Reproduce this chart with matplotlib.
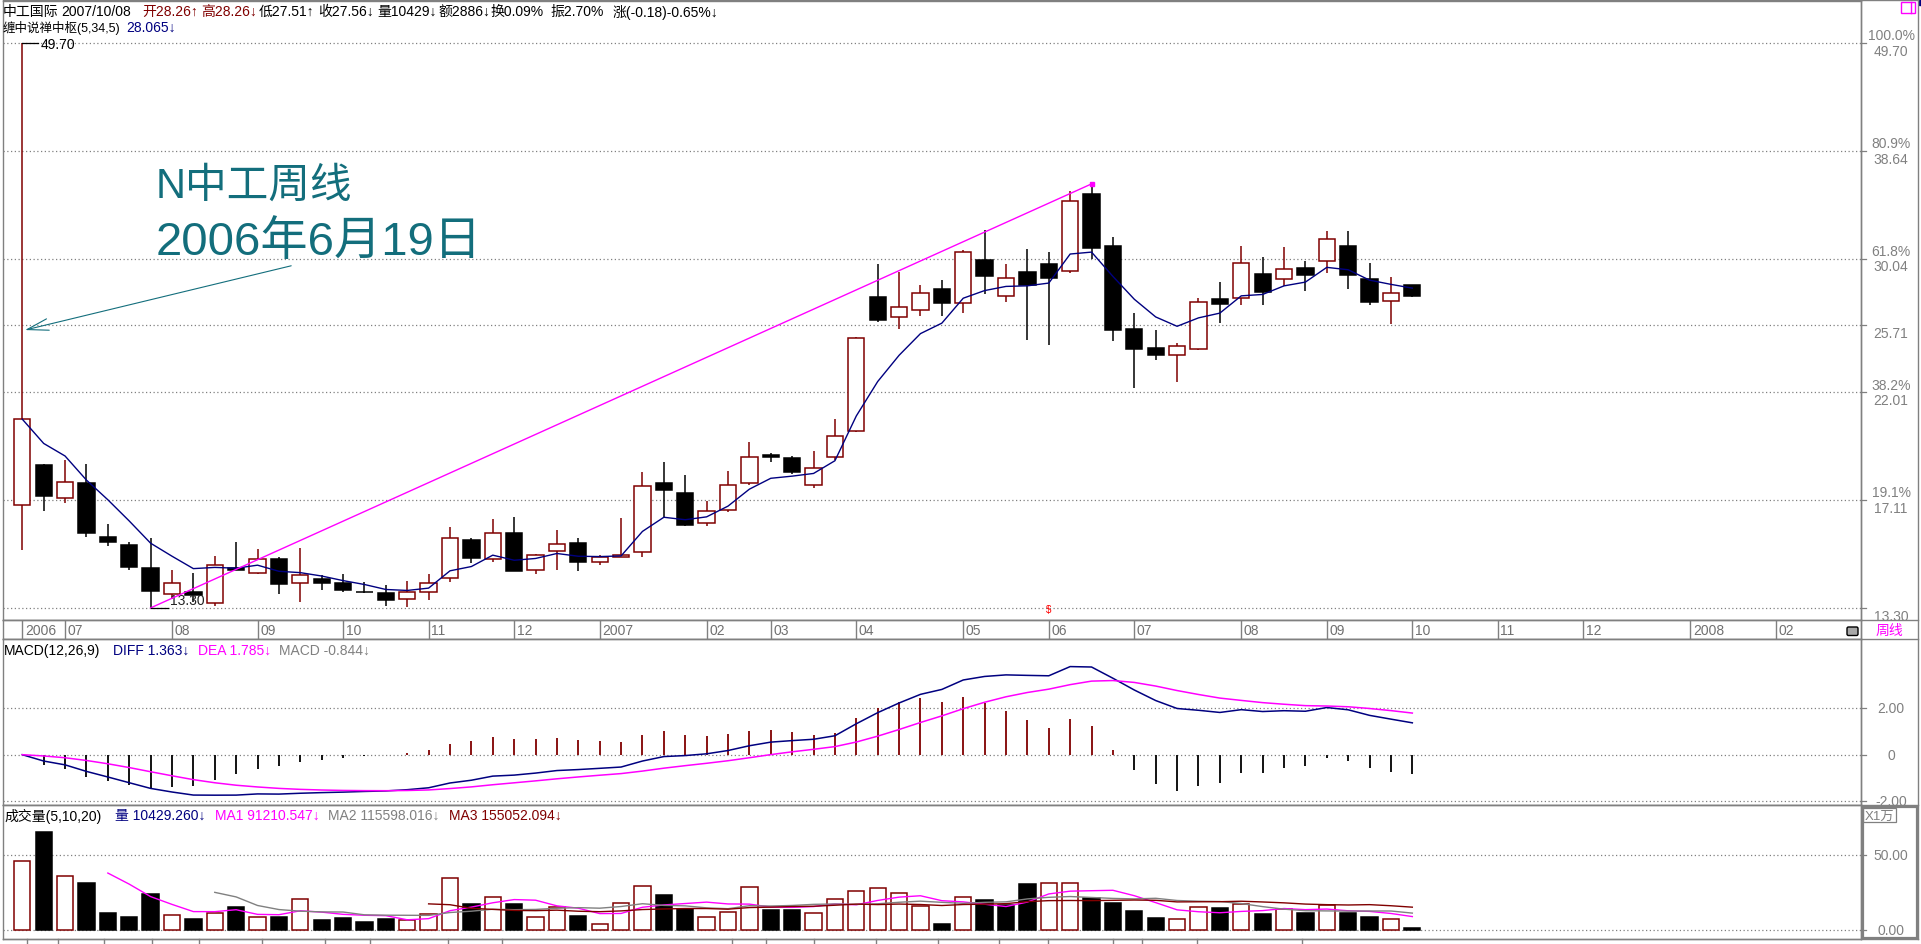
import numpy as np
import pandas as pd
import matplotlib
matplotlib.use("Agg")
import matplotlib.pyplot as plt
from matplotlib.patches import Rectangle, FancyBboxPatch, Arc

plt.rcParams["font.family"] = ["Liberation Sans", "Noto Sans CJK SC", "DejaVu Sans"]

# weekly bars of 中工国际, 2006-06-19 .. 2007-10-08
opens = [16.90, 18.57, 17.18, 17.80, 15.69, 15.42, 14.60, 13.73, 13.81, 13.45,
         14.61, 14.42, 14.91, 14.11, 14.23, 14.09, 13.80, 13.76, 13.57, 13.79,
         14.27, 15.59, 14.91, 15.85, 14.52, 15.19, 15.46, 14.81, 14.99, 15.16,
         17.80, 17.41, 16.20, 16.72, 17.80, 19.00, 18.85, 17.70, 18.91, 20.11,
         27.46, 26.21, 26.68, 28.00, 27.08, 29.96, 27.52, 29.12, 29.68, 29.18,
         34.95, 30.93, 25.48, 24.37, 24.02, 24.34, 27.35, 27.44, 29.00, 28.64,
         29.41, 29.87, 30.95, 28.66, 27.20, 28.26]
highs = [49.70, 18.62, 18.80, 18.60, 16.17, 15.52, 15.65, 14.53, 14.43, 15.02,
         15.50, 15.27, 14.97, 15.30, 14.36, 14.40, 14.12, 14.02, 14.17, 14.40,
         16.06, 15.65, 16.37, 16.46, 15.10, 15.95, 15.66, 15.06, 16.41, 18.25,
         18.68, 18.14, 17.06, 18.32, 19.60, 19.10, 18.95, 19.20, 20.67, 25.05,
         29.68, 29.16, 28.26, 28.60, 30.67, 32.10, 29.68, 30.74, 30.50, 35.17,
         35.78, 31.59, 26.50, 25.44, 24.68, 27.42, 28.46, 30.95, 30.15, 30.86,
         29.89, 32.06, 32.06, 29.75, 28.80, 28.26]
lows = [15.21, 16.69, 17.00, 15.70, 15.35, 14.53, 13.30, 13.58, 13.50, 13.37,
        14.52, 14.40, 13.74, 13.49, 13.86, 13.80, 13.78, 13.37, 13.34, 13.56,
        14.12, 14.78, 14.81, 14.50, 14.40, 14.53, 14.51, 14.70, 14.97, 14.99,
        16.41, 16.11, 16.10, 16.65, 17.70, 18.70, 18.20, 17.60, 18.80, 20.05,
        25.95, 25.50, 26.31, 26.31, 26.47, 27.68, 27.18, 24.87, 24.59, 29.04,
        30.03, 24.82, 22.24, 23.74, 22.52, 24.30, 25.88, 26.99, 26.99, 28.18,
        27.89, 29.04, 28.02, 26.99, 25.80, 27.51]
closes = [20.66, 17.25, 17.83, 15.85, 15.51, 14.64, 13.82, 14.08, 13.72, 14.70,
          14.54, 14.90, 14.07, 14.35, 14.10, 13.87, 13.79, 13.56, 13.79, 14.08,
          15.65, 14.94, 15.83, 14.51, 15.05, 15.45, 14.81, 14.97, 15.06, 17.67,
          17.50, 16.15, 16.67, 17.70, 18.91, 18.90, 18.27, 18.43, 19.85, 24.95,
          26.04, 26.83, 27.72, 27.10, 30.50, 28.88, 28.71, 28.28, 28.75, 34.36,
          30.79, 25.46, 24.34, 24.02, 24.53, 27.19, 27.05, 29.73, 27.82, 29.32,
          28.95, 31.44, 28.95, 27.18, 27.74, 27.56]
# volume in 万 (X1万 scale)
volumes = [46.0, 65.8, 35.9, 31.5, 11.4, 8.9, 24.1, 9.8, 7.4, 11.2,
           15.4, 8.5, 8.7, 20.5, 6.7, 8.0, 5.4, 7.4, 6.7, 10.5,
           34.6, 17.4, 21.9, 17.4, 8.5, 15.6, 9.6, 3.8, 17.9, 29.2,
           23.4, 14.3, 8.5, 11.8, 28.6, 13.4, 13.4, 11.2, 20.5, 25.9,
           27.9, 24.5, 15.8, 4.0, 21.9, 20.1, 16.7, 30.8, 31.2, 31.2,
           21.6, 18.1, 12.7, 8.0, 7.1, 15.2, 14.7, 17.2, 10.7, 14.1,
           11.4, 16.7, 11.4, 8.7, 7.1, 1.043]

month_pos = [0, 2, 7, 11, 15, 19, 23, 27, 32, 35, 39, 44, 48, 52, 57, 61, 65,
             69, 73, 78, 82]
month_labels = ["2006", "07", "08", "09", "10", "11", "12", "2007", "02", "03",
                "04", "05", "06", "07", "08", "09", "10", "11", "12", "2008", "02"]

fib_pct = [1.0, 0.809, 0.618, 0.5, 0.382, 0.191, 0.0]
fib_pct_labels = ["100.0%", "80.9%", "61.8%", "", "38.2%", "19.1%", ""]
fib_price_labels = ["49.70", "38.64", "30.04", "25.71", "22.01", "17.11", "13.30"]

macd_ticks = [2.0, 0.0, -2.0]
macd_tick_labels = ["2.00", "0", "-2.00"]
vol_ticks = [50.0, 0.0]
vol_tick_labels = ["50.00", "0.00"]

head1 = [("中工国际", "k", 3), ("2007/10/08", "k", 61), ("开28.26↑", "#800000", 142),
         ("高28.26↓", "#800000", 201), ("低27.51↑", "k", 259), ("收27.56↓", "k", 318),
         ("量10429↓", "k", 377), ("额2886↓", "k", 438), ("换0.09%", "k", 490),
         ("振2.70%", "k", 550), ("涨(-0.18)-0.65%↓", "k", 613)]
head2 = [("缠中说禅中枢(5,34,5)", "k", 3), ("28.065↓", "#000080", 126)]
head_macd = [("MACD(12,26,9)", "k", 4), ("DIFF 1.363↓", "#000080", 113),
             ("DEA 1.785↓", "#ff00ff", 198), ("MACD -0.844↓", "#808080", 279)]
head_vol = [("成交量(5,10,20)", "k", 4), ("量 10429.260↓", "#000080", 115),
            ("MA1 91210.547↓", "#ff00ff", 215), ("MA2 115598.016↓", "#808080", 328),
            ("MA3 155052.094↓", "#800000", 449)]

# ---- layout (pixels of the 1921x945 picture) ----
W, H, DPI = 1921, 945, 100
X0, X1 = 3, 1861
X_OFF, X_STEP = 22.3, 21.385
RED, NAVY, MAG, GRAY = "#800000", "#000080", "#ff00ff", "#808080"
TEAL = "#136e7c"


def ema(x, n):
    out = np.empty(len(x))
    out[0] = x[0]
    for k in range(1, len(x)):
        out[k] = (2 * x[k] + (n - 1) * out[k - 1]) / (n + 1)
    return out


o = np.array(opens); h = np.array(highs); l = np.array(lows); c = np.array(closes)
v = np.array(volumes)
idx = np.arange(len(c))

fig = plt.figure(figsize=(W / DPI, H / DPI), dpi=DPI)
fig.patch.set_facecolor("white")


def add_ax(top, bottom):
    a = fig.add_axes([X0 / W, 1 - bottom / H, (X1 - X0) / W, (bottom - top) / H])
    a.set_xlim((X0 - X_OFF) / X_STEP, (X1 - X_OFF) / X_STEP)
    a.set_xticks([]); a.set_yticks([])
    for s in a.spines.values():
        s.set_color(GRAY); s.set_linewidth(1.0)
    return a


ax_p = add_ax(2, 621)
ax_d = add_ax(621, 640)
ax_m = add_ax(640, 806)
ax_v = add_ax(806, 940)

# price panel (log scale, fib levels between lowest low and highest high)
p_lo, p_hi = l.min(), h.max()
k_px = (608.9 - 44.1) / np.log(p_hi / p_lo)
ax_p.set_yscale("log")
ax_p.set_ylim(p_lo * np.exp(-(621 - 608.9) / k_px), p_lo * np.exp((608.9 - 2) / k_px))
ax_p.minorticks_off(); ax_p.set_yticks([])

fib_levels = [np.exp(np.log(p_lo) + f * np.log(p_hi / p_lo)) for f in fib_pct]
xa = (1891 - X0) / (X1 - X0)
for lev, pl, pr in zip(fib_levels, fib_pct_labels, fib_price_labels):
    ax_p.axhline(lev, color=GRAY, lw=0.9, ls=(0, (1, 2)), zorder=1)
    tr = ax_p.get_yaxis_transform()
    ax_p.plot([1.0, 1.0 + 5 / (X1 - X0)], [lev, lev], transform=tr, color=GRAY,
              lw=0.9, clip_on=False)
    if pl:
        ax_p.annotate(pl, (xa, lev), xycoords=tr, xytext=(0, 5.5), textcoords="offset points",
                      ha="center", va="center", color=GRAY, fontsize=10)
    ax_p.annotate(pr, (xa, lev), xycoords=tr, xytext=(0, -5.5), textcoords="offset points",
                  ha="center", va="center", color=GRAY, fontsize=10)

bw = 0.76
for i in idx:
    up = c[i] >= o[i]
    col = RED if up else "k"
    ax_p.vlines(i, l[i], h[i], color=col, lw=1.1, zorder=2)
    lo_b, hi_b = min(o[i], c[i]), max(o[i], c[i])
    ax_p.add_patch(Rectangle((i - bw / 2, lo_b), bw, max(hi_b - lo_b, 0.01),
                             facecolor="white" if up else "k", edgecolor=col,
                             lw=1.1, zorder=3))

ax_p.plot(idx, ema(c, 5), color=NAVY, lw=1.0, zorder=4)

i_lo = int(np.argmin(l))
i_hi = int(np.argmax(h[1:])) + 1
ax_p.plot([i_lo, i_hi], [l[i_lo], h[i_hi]], color=MAG, lw=1.0, zorder=5)
ax_p.plot([i_hi], [h[i_hi]], marker="s", ms=2.5, color=MAG, zorder=5)

# high / low markers
i_top = int(np.argmax(h))
ax_p.plot([i_top, i_top + 0.75], [h[i_top]] * 2, color="k", lw=0.9, zorder=5)
ax_p.annotate(f"{h[i_top]:.2f}", (i_top + 0.85, h[i_top]), xytext=(0, -1),
              textcoords="offset points", ha="left", va="center", fontsize=10)
ax_p.plot([i_lo, i_lo + 0.8], [l[i_lo]] * 2, color="k", lw=0.9, zorder=5)
ax_p.annotate(f"{l[i_lo]:.2f}", (i_lo + 0.9, l[i_lo]), xytext=(0, 6),
              textcoords="offset points", ha="left", va="center", fontsize=10,
              color="#222222", zorder=4)
ax_p.text(48, l[i_lo] * 0.998, "$", color="red", fontsize=7, ha="center", va="center")

ax_p.annotate("", xy=(0, 25.4), xytext=(12.7, 29.6),
              arrowprops=dict(arrowstyle="->,head_length=1.1,head_width=0.3",
                              color=TEAL, lw=0.8, mutation_scale=14))

# date strip
ax_d.set_ylim(0, 1)
ax_d.vlines(month_pos, 0, 1, color=GRAY, lw=1.0)
for pos, lab in zip(month_pos, month_labels):
    ax_d.text(pos + 2.5 / X_STEP, 0.45, lab, ha="left", va="center", color="#707070",
              fontsize=10)

# MACD panel
diff = ema(c, 12) - ema(c, 26)
dea = ema(diff, 9)
macd = 2 * (diff - dea)
ax_m.set_ylim(-(806 - 755.7) / 23.3, (755.7 - 640) / 23.3)
for t, lab in zip(macd_ticks, macd_tick_labels):
    ax_m.axhline(t, color=GRAY, lw=0.9, ls=(0, (1, 2)), zorder=1)
    tr = ax_m.get_yaxis_transform()
    ax_m.plot([1.0, 1.0 + 5 / (X1 - X0)], [t, t], transform=tr, color=GRAY, lw=0.9,
              clip_on=False)
    ax_m.text(xa, t, lab, transform=tr, ha="center", va="center", color=GRAY, fontsize=10)
ax_m.vlines(idx, 0, macd, colors=[RED if m > 0 else "k" for m in macd], lw=1.3, zorder=2)
ax_m.plot(idx, diff, color=NAVY, lw=1.1, zorder=3)
ax_m.plot(idx, dea, color=MAG, lw=1.1, zorder=3)

# volume panel
ax_v.set_ylim(-(940 - 931) / 1.494, (931 - 806) / 1.494)
for t, lab in zip(vol_ticks, vol_tick_labels):
    ax_v.axhline(t, color=GRAY, lw=0.9, ls=(0, (1, 2)), zorder=1)
    tr = ax_v.get_yaxis_transform()
    ax_v.plot([1.0, 1.0 + 5 / (X1 - X0)], [t, t], transform=tr, color=GRAY, lw=0.9,
              clip_on=False)
    ax_v.text(xa, t, lab, transform=tr, ha="center", va="center", color=GRAY, fontsize=10)
prev = np.concatenate([[c[0]], c[:-1]])
for i in idx:
    up = i == 0 or c[i] >= prev[i]
    col = RED if up else "k"
    ax_v.add_patch(Rectangle((i - bw / 2, 0), bw, v[i], facecolor="white" if up else "k",
                             edgecolor=col, lw=1.1, zorder=2))
vs = pd.Series(v)
ax_v.plot(idx, vs.rolling(5).mean(), color=MAG, lw=1.0, zorder=3)
ax_v.plot(idx, vs.rolling(10).mean(), color=GRAY, lw=1.0, zorder=3)
ax_v.plot(idx, vs.rolling(20).mean(), color=RED, lw=1.0, zorder=3)

# overlay in pixel space for frame, headers and small furniture
ov = fig.add_axes([0, 0, 1, 1])
ov.set_xlim(0, W); ov.set_ylim(H, 0); ov.axis("off")


def row(items, y, sizes):
    for (txt, col, x), size in zip(items, sizes):
        ov.text(x, y, txt, color=col, fontsize=size, ha="left", va="center")


row(head1, 12, [10] * len(head1))
row(head2, 28, [9, 10])
row(head_macd, 651, [10] * len(head_macd))
row(head_vol, 816, [10] * len(head_vol))

ov.text(156, 187, "N中工周线", color=TEAL, fontsize=30, ha="left", va="center")
ov.text(156, 243, "2006年6月19日", color=TEAL, fontsize=34, ha="left", va="center")

for y in (1, 621, 640, 806, 940):
    ov.plot([X0, 1918], [y, y], color=GRAY, lw=1.0)
ov.plot([1918, 1918], [1, 940], color=GRAY, lw=1.0)
ov.plot([X1, X1], [1, 940], color=GRAY, lw=1.0)
ov.add_patch(Rectangle((1862.5, 808), 54.5, 131, fill=False, edgecolor=GRAY, lw=1.6))
ov.add_patch(Rectangle((1863, 809), 33, 14, fill=False, edgecolor=GRAY, lw=0.9))
ov.text(1879.5, 816.5, "X1万", color=GRAY, fontsize=9.5, ha="center", va="center")
ov.add_patch(Rectangle((1900.5, 3), 14.5, 11, fill=False, edgecolor=MAG, lw=1.0))
ov.plot([1911, 1911], [3, 14], color=MAG, lw=1.0)
ov.add_patch(Rectangle((1919, 0), 2, 6, color=NAVY))
ov.text(1889, 631, "周线", color=MAG, fontsize=10, ha="center", va="center")

# lock icon
ov.add_patch(Arc((1852.5, 628), 7, 9, theta1=0, theta2=180, color="k", lw=1.2))
ov.add_patch(FancyBboxPatch((1847.5, 628.5), 10, 7.5, boxstyle="round,pad=0.5,rounding_size=1.5",
                            facecolor="#a8a8a8", edgecolor="k", lw=1.0))

# cut-off tab strip at the bottom
for x in (27, 58, 104, 152, 199, 262, 325, 370, 448, 502, 732, 766, 814, 876, 938, 999,
          1048, 1113, 1142, 1197, 1302):
    ov.plot([x, x], [940, 945], color=GRAY, lw=1.0)

fig.savefig("out.png", dpi=DPI, facecolor="white")
